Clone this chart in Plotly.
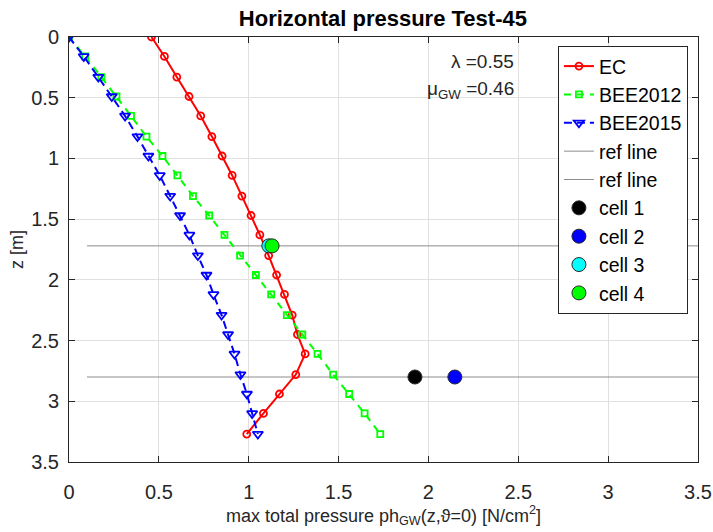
import plotly.graph_objects as go

# ---- data ----
z = [0.0, 0.16, 0.33, 0.49, 0.65, 0.82, 0.98, 1.14, 1.31, 1.47, 1.63,
     1.80, 1.96, 2.12, 2.29, 2.45, 2.61, 2.78, 2.94, 3.10, 3.27]
ec = [0.459, 0.531, 0.600, 0.668, 0.733, 0.795, 0.852, 0.908, 0.962, 1.013, 1.062,
      1.111, 1.155, 1.199, 1.242, 1.271, 1.314, 1.262, 1.171, 1.082, 0.989]
bee2012 = [0.0, 0.09, 0.18, 0.264, 0.345, 0.431, 0.520, 0.603, 0.690, 0.780, 0.865,
           0.952, 1.040, 1.125, 1.212, 1.298, 1.383, 1.470, 1.559, 1.645, 1.732]
bee2015 = [0.0, 0.082, 0.163, 0.238, 0.312, 0.381, 0.442, 0.505, 0.563, 0.618, 0.670,
           0.717, 0.765, 0.804, 0.849, 0.885, 0.921, 0.954, 0.990, 1.019, 1.051]
ref_x = [0.1, 3.5]
ref_levels = [1.72, 2.80]
cell_names = ["cell 1", "cell 2", "cell 3", "cell 4"]
cell_x = [1.925, 2.147, 1.112, 1.130]
cell_z = [2.80, 2.80, 1.72, 1.72]
cell_colors = ["#000000", "#0000ff", "#00ffff", "#00ff00"]
ticks = [0, 0.5, 1, 1.5, 2, 2.5, 3, 3.5]
tick_labels = ["0", "0.5", "1", "1.5", "2", "2.5", "3", "3.5"]

FONT = "Liberation Sans, Arial, Helvetica, sans-serif"

fig = go.Figure()
for lvl in ref_levels:
    fig.add_trace(go.Scatter(x=ref_x, y=[lvl, lvl], mode="lines", name="ref line",
                             line=dict(color="#8c8c8c", width=1), legendrank=4))
fig.add_trace(go.Scatter(x=ec, y=z, mode="lines+markers", name="EC", legendrank=1,
                         line=dict(color="#ff0000", width=2),
                         marker=dict(symbol="circle-open", size=7, color="#ff0000",
                                     line=dict(width=1.8, color="#ff0000"))))
fig.add_trace(go.Scatter(x=bee2012, y=z, mode="lines+markers", name="BEE2012", legendrank=2,
                         line=dict(color="#00ff00", width=2, dash="7px,6px"),
                         marker=dict(symbol="square-open", size=6, color="#00ff00",
                                     line=dict(width=1.8, color="#00ff00"))))
fig.add_trace(go.Scatter(x=bee2015, y=z, mode="lines+markers", name="BEE2015", legendrank=3,
                         line=dict(color="#0000ff", width=2, dash="8px,5px"),
                         marker=dict(symbol="triangle-down-open", size=9, color="#0000ff",
                                     line=dict(width=1.8, color="#0000ff"))))
for i in range(len(cell_names)):
    fig.add_trace(go.Scatter(x=[cell_x[i]], y=[cell_z[i]], mode="markers",
                             name=cell_names[i], legendrank=5 + i,
                             marker=dict(symbol="circle", size=14, color=cell_colors[i],
                                         line=dict(width=1, color="#262626"))))

axis_common = dict(
    range=[0, 3.5], tickvals=ticks, ticktext=tick_labels,
    showgrid=True, gridcolor="#e0e0e0", gridwidth=1,
    showline=True, linecolor="#262626", linewidth=1, mirror="allticks",
    ticks="inside", ticklen=6, tickcolor="#262626",
    tickfont=dict(family=FONT, size=20, color="#262626"),
    zeroline=False, automargin=False,
)
fig.update_xaxes(**axis_common, ticklabelstandoff=12,
                 title=dict(text="max total pressure ph<sub>GW</sub>(z,\u03d1=0) [N/cm<sup>2</sup>]",
                            font=dict(family=FONT, size=18, color="#262626"), standoff=0))
fig.update_yaxes(**axis_common, autorange=False, ticklabelstandoff=5)
fig.update_yaxes(range=[3.5, 0],
                 title=dict(text="z [m]", font=dict(family=FONT, size=18, color="#262626"),
                            standoff=2))

fig.add_annotation(x=0.711, y=0.943, xref="paper", yref="paper", xanchor="right",
                   yanchor="middle", showarrow=False, text="\u03bb =0.55",
                   font=dict(family=FONT, size=19, color="#262626"))
fig.add_annotation(x=0.711, y=0.876, xref="paper", yref="paper", xanchor="right",
                   yanchor="middle", showarrow=False, text="\u03bc<sub>GW</sub> =0.46",
                   font=dict(family=FONT, size=19, color="#262626"))

fig.update_layout(
    width=713, height=532,
    margin=dict(l=69, r=15, t=37, b=70, autoexpand=False),
    paper_bgcolor="white", plot_bgcolor="white",
    hovermode=False,
    title=dict(text="<b>Horizontal pressure Test-45</b>", x=0.537, xanchor="center",
               y=1 - 18 / 532, yanchor="middle", yref="container",
               font=dict(family=FONT, size=22, color="#000000")),
    legend=dict(x=0.984, y=0.979, xanchor="right", yanchor="top",
                bgcolor="white", bordercolor="#262626", borderwidth=1,
                font=dict(family=FONT, size=19.5, color="#000000"),
                tracegroupgap=0, itemwidth=30),
    showlegend=True,
)

fig.write_html("out.html", config={"displayModeBar": False},
               post_script="document.body.style.margin='0';document.body.style.padding='0';")
